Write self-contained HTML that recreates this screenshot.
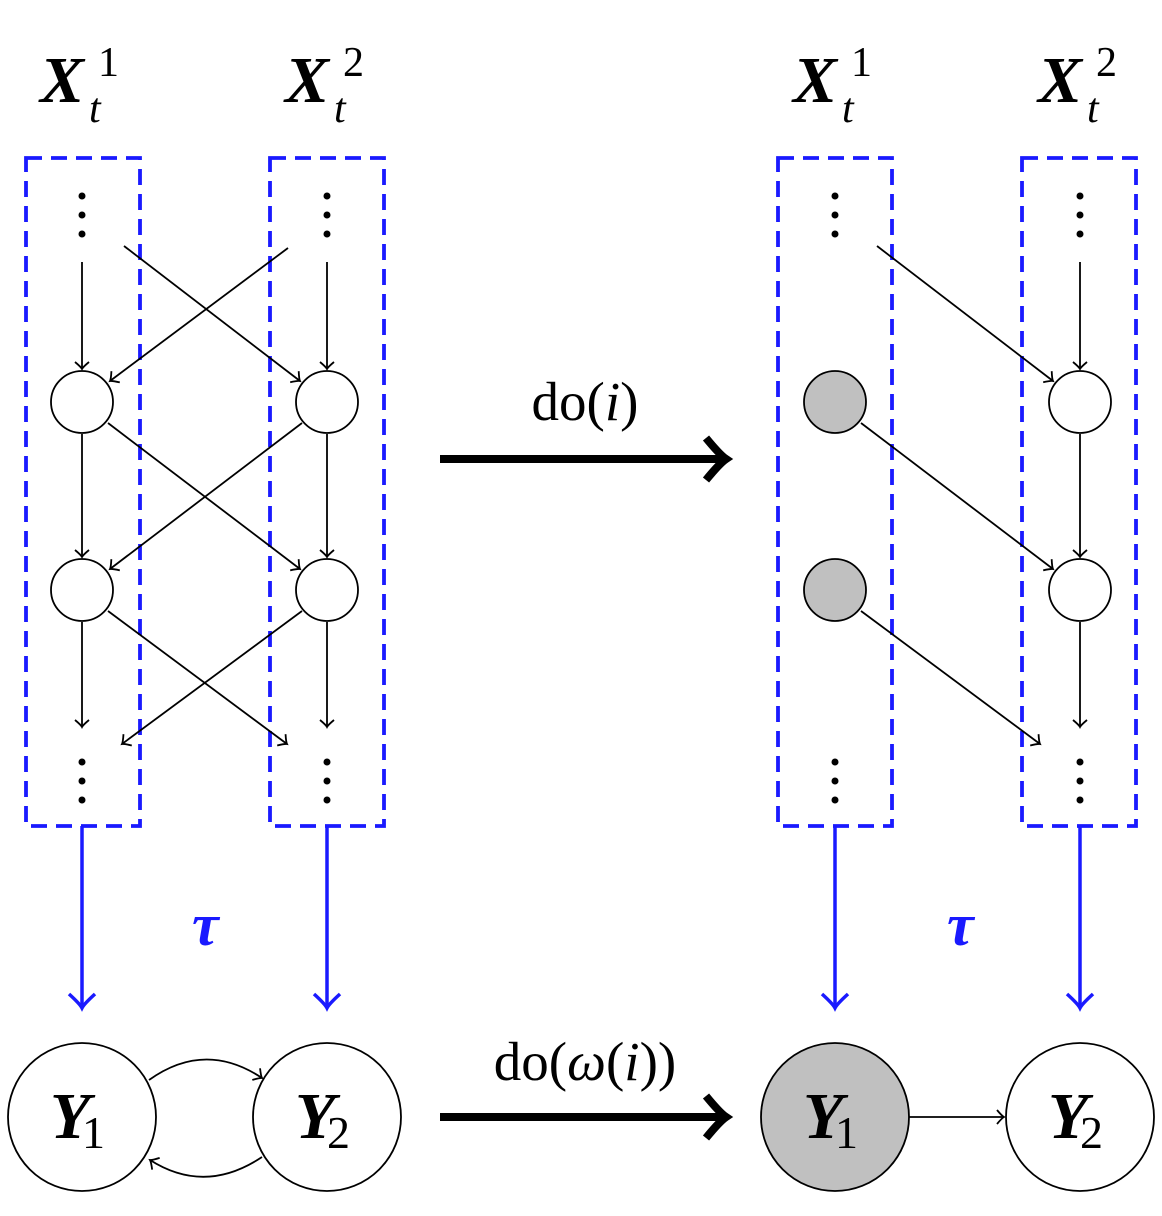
<!DOCTYPE html>
<html><head><style>body{margin:0;background:#fff}svg{display:block}</style></head><body>
<svg width="1162" height="1216" viewBox="0 0 1162 1216" xmlns="http://www.w3.org/2000/svg">
<defs>
<marker id="a" markerUnits="userSpaceOnUse" markerWidth="20" markerHeight="20" refX="0" refY="0" viewBox="-10 -10 20 20" orient="auto">
<path d="M-7,-7 Q-2,-1 0,0 Q-2,1 -7,7" fill="none" stroke="#000" stroke-width="1.8"/>
</marker>
<marker id="b" markerUnits="userSpaceOnUse" markerWidth="40" markerHeight="40" refX="0" refY="0" viewBox="-20 -20 40 40" orient="auto">
<path d="M-14,-13 Q-4,-2 0,0 Q-4,2 -14,13" fill="none" stroke="#1a1aff" stroke-width="3.5"/>
</marker>
<marker id="c" markerUnits="userSpaceOnUse" markerWidth="60" markerHeight="60" refX="0" refY="0" viewBox="-30 -30 60 60" orient="auto">
<path d="M-20,-21 Q-6,-4 0,0 Q-6,4 -20,21" fill="none" stroke="#000" stroke-width="8"/>
</marker>
</defs>
<g fill="none" stroke="#1a1aff" stroke-width="3.8" stroke-dasharray="16,9">
<rect x="26" y="158" width="114" height="668"/><rect x="270" y="158" width="114" height="668"/>
<rect x="778" y="158" width="114" height="668"/><rect x="1022" y="158" width="114" height="668"/>
</g>
<g fill="#000">
<circle cx="82" cy="196" r="3.5"/><circle cx="82" cy="215" r="3.5"/><circle cx="82" cy="234" r="3.5"/>
<circle cx="327" cy="196" r="3.5"/><circle cx="327" cy="215" r="3.5"/><circle cx="327" cy="234" r="3.5"/>
<circle cx="835" cy="196" r="3.5"/><circle cx="835" cy="215" r="3.5"/><circle cx="835" cy="234" r="3.5"/>
<circle cx="1080" cy="196" r="3.5"/><circle cx="1080" cy="215" r="3.5"/><circle cx="1080" cy="234" r="3.5"/>
<circle cx="82" cy="762" r="3.5"/><circle cx="82" cy="781" r="3.5"/><circle cx="82" cy="800" r="3.5"/>
<circle cx="327" cy="762" r="3.5"/><circle cx="327" cy="781" r="3.5"/><circle cx="327" cy="800" r="3.5"/>
<circle cx="835" cy="762" r="3.5"/><circle cx="835" cy="781" r="3.5"/><circle cx="835" cy="800" r="3.5"/>
<circle cx="1080" cy="762" r="3.5"/><circle cx="1080" cy="781" r="3.5"/><circle cx="1080" cy="800" r="3.5"/>
</g>
<g stroke="#000" stroke-width="1.8" fill="none" marker-end="url(#a)">
<line x1="82" y1="262" x2="82" y2="369"/><line x1="327" y1="262" x2="327" y2="369"/>
<line x1="124" y1="246" x2="300" y2="381"/><line x1="288" y1="248" x2="110" y2="381"/>
<line x1="82" y1="434" x2="82" y2="557"/><line x1="327" y1="434" x2="327" y2="557"/>
<line x1="108" y1="423" x2="300" y2="569"/><line x1="302" y1="423" x2="110" y2="569"/>
<line x1="82" y1="622" x2="82" y2="727"/><line x1="327" y1="622" x2="327" y2="727"/>
<line x1="108" y1="611" x2="287" y2="744"/><line x1="302" y1="611" x2="122" y2="744"/>
<line x1="1080" y1="262" x2="1080" y2="369"/><line x1="877" y1="246" x2="1053" y2="381"/>
<line x1="1080" y1="434" x2="1080" y2="557"/><line x1="861" y1="423" x2="1053" y2="569"/>
<line x1="1080" y1="622" x2="1080" y2="727"/><line x1="861" y1="611" x2="1040" y2="744"/>
<path d="M149,1080 Q205,1040 262,1078"/><path d="M262,1157 Q205,1195 150,1160"/>
<line x1="909" y1="1117" x2="1004" y2="1117"/>
</g>
<g stroke="#000" stroke-width="1.8" fill="#fff">
<circle cx="82" cy="402" r="31"/><circle cx="327" cy="402" r="31"/>
<circle cx="82" cy="590" r="31"/><circle cx="327" cy="590" r="31"/>
<circle cx="835" cy="402" r="31" fill="#c0c0c0"/><circle cx="1080" cy="402" r="31"/>
<circle cx="835" cy="590" r="31" fill="#c0c0c0"/><circle cx="1080" cy="590" r="31"/>
<circle cx="82" cy="1117" r="74"/><circle cx="327" cy="1117" r="74"/>
<circle cx="835" cy="1117" r="74" fill="#c0c0c0"/><circle cx="1080" cy="1117" r="74"/>
</g>
<g stroke="#1a1aff" stroke-width="3.5" marker-end="url(#b)">
<line x1="82" y1="826" x2="82" y2="1008"/><line x1="327" y1="826" x2="327" y2="1008"/>
<line x1="835" y1="826" x2="835" y2="1008"/><line x1="1080" y1="826" x2="1080" y2="1008"/>
</g>
<g stroke="#000" stroke-width="8" marker-end="url(#c)">
<line x1="440" y1="459" x2="726" y2="459"/><line x1="440" y1="1117" x2="726" y2="1117"/>
</g>
<g font-family="Liberation Serif, serif" fill="#000">
<text x="585" y="420" font-size="55" text-anchor="middle">do(<tspan font-style="italic">i</tspan>)</text>
<text x="585" y="1080" font-size="55" text-anchor="middle">do(<tspan font-style="italic">ω</tspan>(<tspan font-style="italic">i</tspan>))</text>
<g font-style="italic" font-weight="bold" font-size="66">
<text x="40" y="102">X</text><text x="285" y="102">X</text><text x="793" y="102">X</text><text x="1038" y="102">X</text>
<text x="50" y="1138">Y</text><text x="295" y="1138">Y</text><text x="803" y="1138">Y</text><text x="1048" y="1138">Y</text>
</g>
<g font-style="italic" font-size="42">
<text x="89" y="122">t</text><text x="334" y="122">t</text><text x="842" y="122">t</text><text x="1087" y="122">t</text>
</g>
<g font-size="42">
<text x="98" y="76">1</text><text x="343" y="76">2</text><text x="851" y="76">1</text><text x="1096" y="76">2</text>
</g>
<g font-size="46">
<text x="82" y="1148">1</text><text x="327" y="1148">2</text><text x="835" y="1148">1</text><text x="1080" y="1148">2</text>
</g>
<g font-style="italic" font-weight="bold" font-size="60" fill="#1a1aff">
<text x="192" y="945">τ</text><text x="947" y="945">τ</text>
</g>
</g>
</svg>
</body></html>
